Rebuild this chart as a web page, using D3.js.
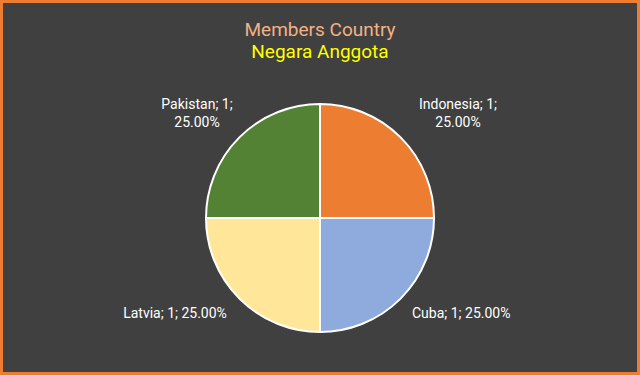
<!DOCTYPE html>
<meta charset="utf-8">
<style>
body { margin: 0; background: #404040; }
svg { display: block; }
</style>
<body>
<svg width="640" height="375"></svg>
<script src="https://cdn.jsdelivr.net/npm/d3@7"></script>
<script>
// chart data
var countries = ["Indonesia", "Cuba", "Latvia", "Pakistan"];
var members = [1, 1, 1, 1];
var colors = ["#ED7D31", "#8FAADC", "#FFE699", "#548235"];

var svg = d3.select("svg"),
    width = +svg.attr("width"),
    height = +svg.attr("height");

svg.append("rect")
    .attr("x", 1.5).attr("y", 1.5)
    .attr("width", width - 3).attr("height", height - 3)
    .attr("fill", "#404040")
    .attr("stroke", "#ED7D31")
    .attr("stroke-width", 3);

var font = "Roboto, 'DejaVu Sans', sans-serif";

svg.append("text")
    .attr("x", 320).attr("y", 36)
    .attr("text-anchor", "middle")
    .style("font", "19px " + font)
    .attr("fill", "#F4B183")
    .text("Members Country");
svg.append("text")
    .attr("x", 320).attr("y", 58)
    .attr("text-anchor", "middle")
    .style("font", "19px " + font)
    .attr("fill", "#FFFF00")
    .text("Negara Anggota");

var data = countries.map(function(c, i) { return {name: c, value: members[i], color: colors[i]}; });
var total = d3.sum(members);

var pie = d3.pie().sort(null).value(function(d) { return d.value; });
var arc = d3.arc().innerRadius(0).outerRadius(114);

var g = svg.append("g").attr("transform", "translate(320,218)");

g.selectAll("path")
    .data(pie(data))
    .enter().append("path")
      .attr("d", arc)
      .attr("fill", function(d) { return d.data.color; })
      .attr("stroke", "#fff")
      .attr("stroke-width", 2);

// label positions per slice (offsets from center)
var labelPos = [
  {x: 138, y: -109, lines: 2, anchor: "middle"},
  {x: 92, y: 100, lines: 1, anchor: "start"},
  {x: -145, y: 100, lines: 1, anchor: "middle"},
  {x: -123, y: -109, lines: 2, anchor: "middle"}
];

data.forEach(function(d, i) {
  var p = labelPos[i];
  var pct = (d.value / total * 100).toFixed(2) + "%";
  var t = g.append("text")
      .attr("x", p.x).attr("y", p.y)
      .attr("text-anchor", p.anchor)
      .attr("fill", "#fff")
      .style("font", "14px " + font);
  if (p.lines === 2) {
    t.append("tspan").attr("x", p.x).text(d.name + "; " + d.value + ";");
    t.append("tspan").attr("x", p.x).attr("dy", 18).text(pct);
  } else {
    t.text(d.name + "; " + d.value + "; " + pct);
  }
});
</script>
</body>
